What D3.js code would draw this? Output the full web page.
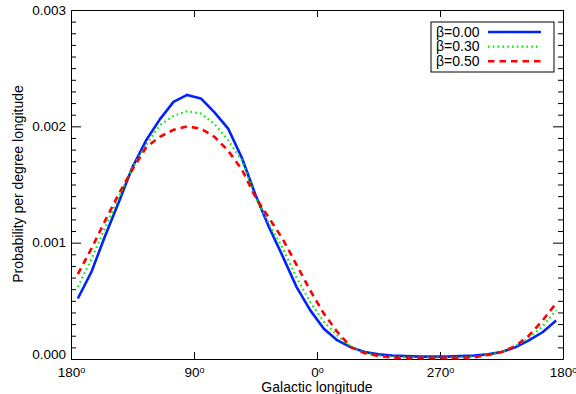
<!DOCTYPE html>
<html>
<head>
<meta charset="utf-8">
<script src="https://cdn.jsdelivr.net/npm/d3@7"></script>
<style>
  body { margin: 0; background: #fff; }
  svg { display: block; font-family: "Liberation Sans", Arial, sans-serif; }
  .axis path, .axis line { stroke: #000; stroke-width: 1; }
  .axis text { font-size: 13.5px; fill: #000; }
</style>
</head>
<body>
<div class="chart"></div>
<script>
// bin centres, 10 degree bins, running from l=175 down through 0 to l=-175 (=185)
var longitudes = d3.range(175, -180, -10);

var beta000 = [0.00052, 0.00075, 0.00106, 0.00135, 0.00165, 0.00188, 0.00206, 0.00221, 0.00227, 0.00224,
  0.00212, 0.00198, 0.00173, 0.00141, 0.00113, 0.00088, 0.00062, 0.00042, 0.00026, 0.00016,
  0.00010, 0.00006, 0.00004, 0.00003, 0.000025, 0.00002, 0.00002, 0.00002, 0.000025, 0.00003,
  0.00004, 0.00006, 0.00010, 0.00016, 0.00023, 0.00033];
var beta030 = [0.00062, 0.00086, 0.00113, 0.00139, 0.00165, 0.00184, 0.00201, 0.00209, 0.00213, 0.00211,
  0.00202, 0.00188, 0.00171, 0.00139, 0.00116, 0.00095, 0.00070, 0.00049, 0.00032, 0.00020,
  0.000105, 0.000055, 0.00003, 0.00002, 0.000015, 0.000012, 0.000012, 0.000012, 0.000015, 0.00002,
  0.000035, 0.00006, 0.00011, 0.00018, 0.00028, 0.00042];
var beta050 = [0.00073, 0.00095, 0.00119, 0.00142, 0.00163, 0.00182, 0.00191, 0.00197, 0.00200, 0.00198,
  0.00191, 0.00179, 0.00163, 0.00139, 0.00121, 0.00103, 0.00081, 0.00059, 0.00039, 0.00023,
  0.00010, 0.00005, 0.000026, 0.000012, 0.00001, 0.00001, 0.00001, 0.00001, 0.00001, 0.000015,
  0.000035, 0.00006, 0.00011, 0.00020, 0.00033, 0.00048];

var seriesNames = ["\u03b2=0.00", "\u03b2=0.30", "\u03b2=0.50"];
var xTicks = [180, 90, 0, -90, -180];
var yTicks = [0, 0.001, 0.002, 0.003];

var width = 576, height = 394;
var margin = { top: 10, right: 13, bottom: 35, left: 71 };

var svg = d3.select(".chart").append("svg")
  .attr("width", width)
  .attr("height", height);

var x = d3.scaleLinear().domain([180, -180]).range([margin.left, width - margin.right]);
var y = d3.scaleLinear().domain([0, 0.003]).range([height - margin.bottom, margin.top]);

var styles = [
  { color: "#0022ff", dash: null, w: 2.6 },
  { color: "#00ee00", dash: "1.6 3.2", w: 2.2 },
  { color: "#ff0000", dash: "6.5 5", w: 2.6 }
];

function lonLabel(sel) {
  sel.each(function(d) {
    var t = d3.select(this).text("");
    var v = d < 0 ? d + 360 : d;
    t.append("tspan").text(v);
    t.append("tspan").attr("dy", "-0.45em").style("font-size", "9px").text("o");
  });
}

// bottom axis
var gx = svg.append("g").attr("class", "axis")
  .attr("transform", "translate(0," + y(0) + ")")
  .call(d3.axisBottom(x).tickValues(xTicks).tickSizeInner(-7).tickSizeOuter(0).tickPadding(8));
gx.selectAll("text").call(lonLabel);

// top axis
svg.append("g").attr("class", "axis")
  .attr("transform", "translate(0," + y(0.003) + ")")
  .call(d3.axisTop(x).tickValues(xTicks).tickSizeInner(-7).tickSizeOuter(0).tickFormat(""));

var minor = d3.range(0, 0.00305, 0.0001).filter(function(v) {
  return Math.abs(v * 1000 - Math.round(v * 1000)) > 1e-6;
});

// left axis
var gy = svg.append("g").attr("class", "axis")
  .attr("transform", "translate(" + x(180) + ",0)")
  .call(d3.axisLeft(y).tickValues(yTicks).tickSizeInner(-10).tickSizeOuter(0).tickPadding(5)
    .tickFormat(d3.format(".3f")));
gy.selectAll(".tick").filter(function(d) { return d === 0; })
  .select("text").attr("dy", "-0.05em");
svg.append("g").attr("class", "axis")
  .attr("transform", "translate(" + x(180) + ",0)")
  .call(d3.axisLeft(y).tickValues(minor).tickSizeInner(-5).tickSizeOuter(0).tickFormat(""))
  .select(".domain").remove();

// right axis
svg.append("g").attr("class", "axis")
  .attr("transform", "translate(" + x(-180) + ",0)")
  .call(d3.axisRight(y).tickValues(yTicks).tickSizeInner(-10).tickSizeOuter(0).tickFormat(""));
svg.append("g").attr("class", "axis")
  .attr("transform", "translate(" + x(-180) + ",0)")
  .call(d3.axisRight(y).tickValues(minor).tickSizeInner(-5).tickSizeOuter(0).tickFormat(""))
  .select(".domain").remove();

// lines
var line = d3.line()
  .x(function(d) { return x(d[0]); })
  .y(function(d) { return y(d[1]); });

[beta000, beta030, beta050].forEach(function(vals, i) {
  svg.append("path")
    .datum(longitudes.map(function(l, j) { return [l, vals[j]]; }))
    .attr("fill", "none")
    .attr("stroke", styles[i].color)
    .attr("stroke-width", styles[i].w)
    .attr("stroke-dasharray", styles[i].dash)
    .attr("stroke-linejoin", "round")
    .attr("d", line);
});

// axis titles
svg.append("text")
  .attr("x", x(0)).attr("y", 391.5)
  .attr("text-anchor", "middle")
  .style("font-size", "14px")
  .text("Galactic longitude");

svg.append("text")
  .attr("transform", "translate(23,184) rotate(-90)")
  .attr("text-anchor", "middle")
  .style("font-size", "14px")
  .text("Probability per degree longitude");

// legend
var legend = svg.append("g").attr("transform", "translate(431,22)");
legend.append("rect")
  .attr("width", 123).attr("height", 50)
  .attr("fill", "#fff").attr("stroke", "#000").attr("stroke-width", 1);
seriesNames.forEach(function(name, i) {
  var cy = 10 + i * 14.6;
  legend.append("text")
    .attr("x", 5).attr("y", cy + 4.8)
    .style("font-size", "14px")
    .text(name);
  legend.append("line")
    .attr("x1", 57).attr("x2", 110)
    .attr("y1", cy).attr("y2", cy)
    .attr("stroke", styles[i].color)
    .attr("stroke-width", styles[i].w)
    .attr("stroke-dasharray", styles[i].dash);
});
</script>
</body>
</html>
